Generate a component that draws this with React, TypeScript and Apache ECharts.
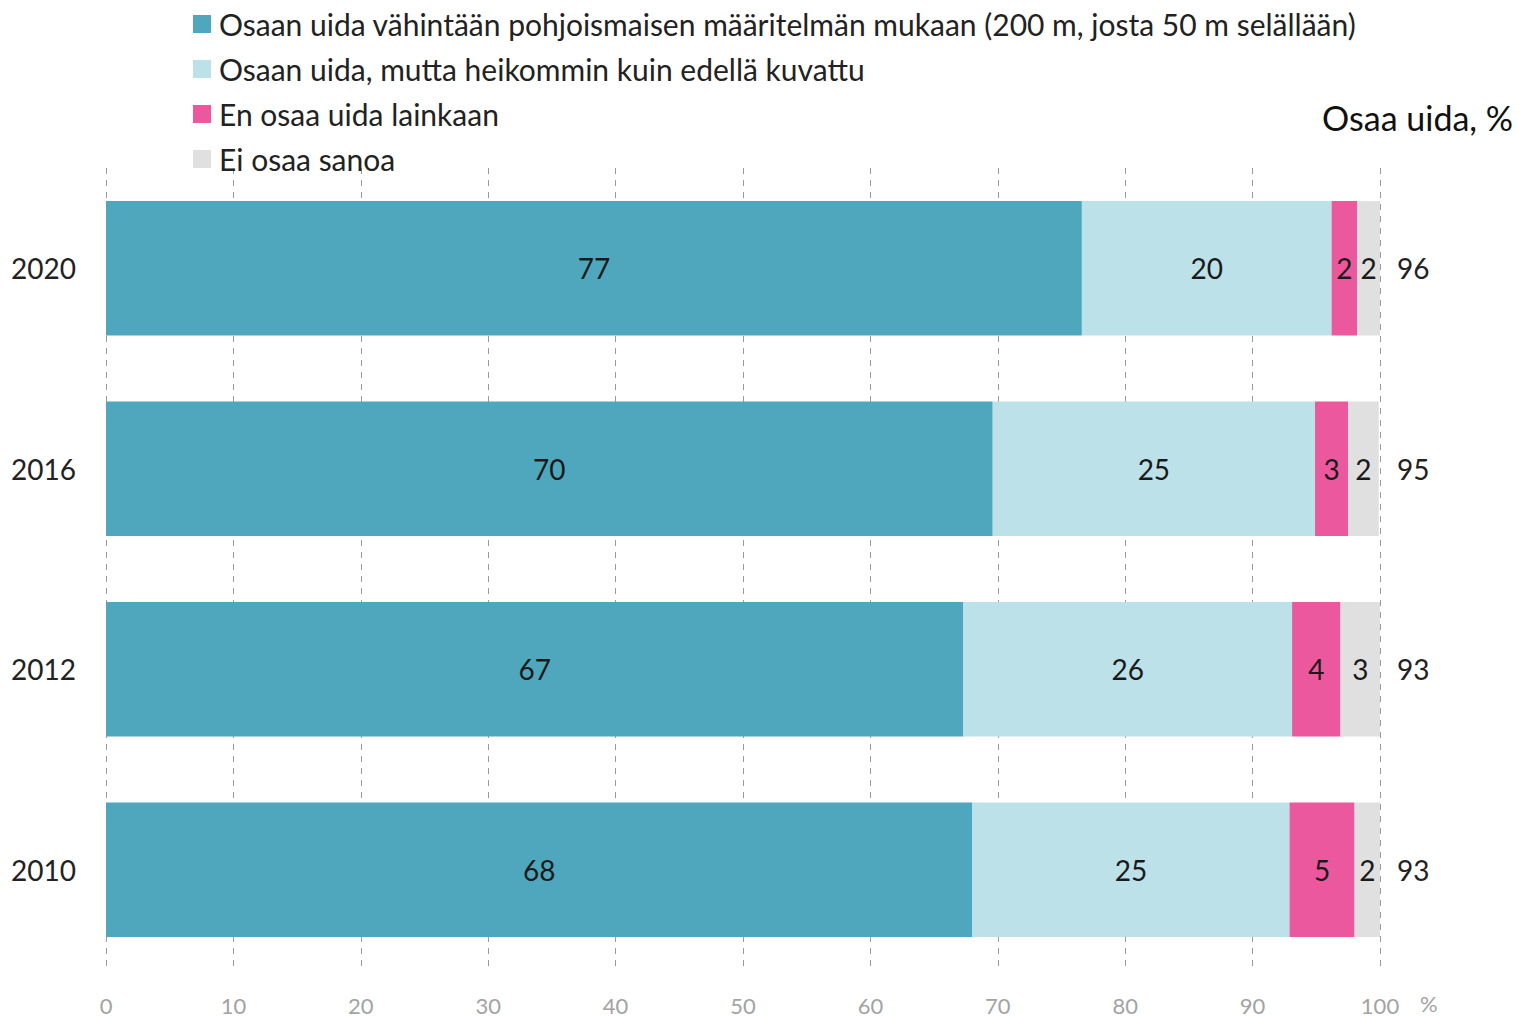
import React, { useEffect, useRef } from "react";
import * as echarts from "echarts";

const years = ["2020", "2016", "2012", "2010"];
const seriesNames = [
  "Osaan uida vähintään pohjoismaisen määritelmän mukaan (200 m, josta 50 m selällään)",
  "Osaan uida, mutta heikommin kuin edellä kuvattu",
  "En osaa uida lainkaan",
  "Ei osaa sanoa",
];
const nordic = [76.6, 69.6, 67.3, 68.0];
const weaker = [19.6, 25.3, 25.8, 24.9];
const cannot = [2.0, 2.6, 3.8, 5.1];
const unknown = [1.8, 2.4, 3.1, 2.0];
const canSwimTotals = ["96", "95", "93", "93"];
const xTicks = [0, 10, 20, 30, 40, 50, 60, 70, 80, 90, 100];

const colors = ["#4ea7bd", "#bde1e9", "#ec589d", "#e0e0e0"];
const FONT = "Lato";

export default function App() {
  const ref = useRef<HTMLDivElement>(null);
  useEffect(() => {
    document.body.style.margin = "0";
    const chart = echarts.init(ref.current!, null, { renderer: "svg" });
    const values = [nordic, weaker, cannot, unknown];
    chart.setOption({
      animation: false,
      textStyle: { fontFamily: FONT },
      legend: {
        orient: "vertical",
        left: 193,
        top: 8,
        padding: 0,
        itemWidth: 18,
        itemHeight: 18,
        itemGap: 13,
        icon: "rect",
        data: seriesNames,
        textStyle: { fontSize: 30, color: "#222", fontFamily: FONT, lineHeight: 32, padding: [0, 0, 0, 3] },
        selectedMode: false,
      },
      title: {
        text: "Osaa uida, %",
        right: 6,
        top: 100,
        padding: 0,
        textStyle: { fontSize: 34, fontWeight: "normal", color: "#111", fontFamily: FONT },
      },
      grid: { left: 106, right: 139, top: 168, bottom: 47, containLabel: false },
      xAxis: {
        type: "value",
        min: xTicks[0],
        max: xTicks[xTicks.length - 1],
        interval: 10,
        axisLine: { show: false },
        axisTick: { show: false },
        axisLabel: { fontSize: 22, color: "#a3a3a3", margin: 24, fontFamily: FONT },
        splitLine: { show: true, lineStyle: { type: [6, 6], color: "#9a9a9a", width: 1 } },
      },
      yAxis: [
        {
          type: "category",
          data: years,
          inverse: true,
          axisLine: { show: false },
          axisTick: { show: false },
          axisLabel: { fontSize: 28, color: "#222", margin: 30, fontFamily: FONT },
        },
        {
          type: "category",
          data: canSwimTotals,
          inverse: true,
          position: "right",
          axisLine: { show: false },
          axisTick: { show: false },
          axisLabel: { fontSize: 28, color: "#222", margin: 17, fontFamily: FONT },
        },
      ],
      series: seriesNames.map((name, i) => ({
        name,
        type: "bar",
        stack: "total",
        barCategoryGap: "33%",
        data: values[i],
        itemStyle: { color: colors[i] },
        label: {
          show: true,
          position: "inside",
          fontSize: 28,
          color: "#1a1a1a",
          fontFamily: FONT,
          formatter: (p: any) => String(Math.round(p.value)),
        },
      })),
      graphic: [
        {
          type: "text",
          left: 1420,
          top: 992,
          style: { text: "%", fontSize: 22, fill: "#a3a3a3", fontFamily: FONT },
        },
      ],
    });
    return () => chart.dispose();
  }, []);
  return <div ref={ref} style={{ position: "absolute", left: 0, top: 0, width: 1519, height: 1017 }} />;
}
